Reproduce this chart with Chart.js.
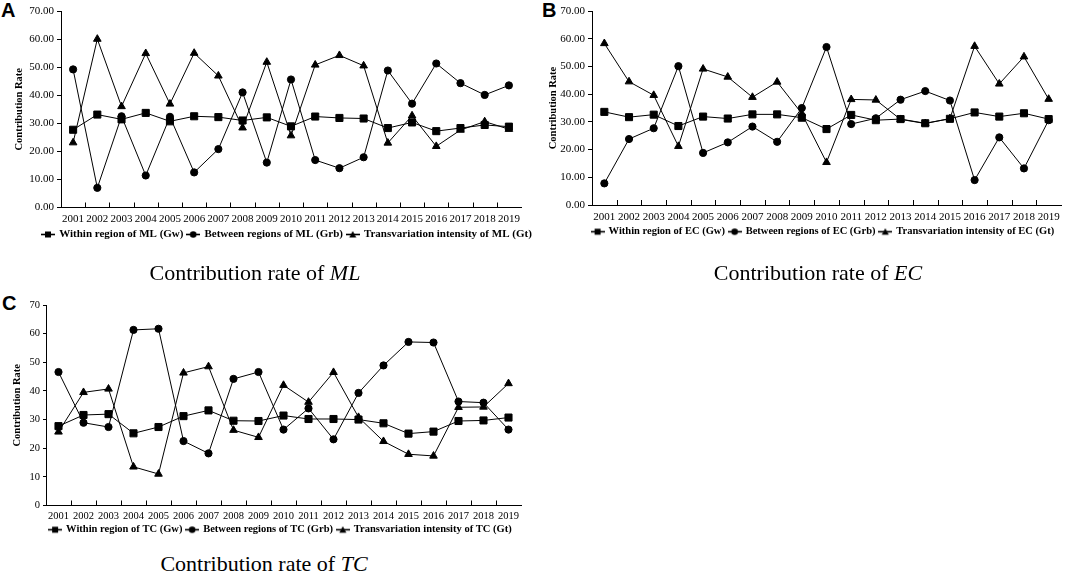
<!DOCTYPE html>
<html>
<head>
<meta charset="utf-8">
<script src="https://cdn.jsdelivr.net/npm/chart.js@4.4.1/dist/chart.umd.min.js"></script>
<style>
  body { margin: 0; background: #fff; width: 1079px; height: 574px; position: relative; overflow: hidden; }
  .panel { position: absolute; }
  .tag { position: absolute; font: bold 20px "Liberation Sans", Arial, sans-serif; line-height: 20px; color: #000; }
  .cap { position: absolute; width: 400px; text-align: center; white-space: nowrap; color: #000;
         font: 22px "Liberation Serif", "Times New Roman", serif; line-height: 22px; }
</style>
</head>
<body>
<div class="tag" style="left:1px;top:0px">A</div>
<div class="tag" style="left:542px;top:0px">B</div>
<div class="tag" style="left:2px;top:293px">C</div>

<div class="panel" style="left:0;top:0;width:540px;height:250px"><canvas id="chartML"></canvas></div>
<div class="panel" style="left:540px;top:0;width:539px;height:247px"><canvas id="chartEC"></canvas></div>
<div class="panel" style="left:0;top:280px;width:540px;height:265px"><canvas id="chartTC"></canvas></div>

<div class="cap" style="left:55px;top:262px">Contribution rate of <i>ML</i></div>
<div class="cap" style="left:618px;top:262px">Contribution rate of <i>EC</i></div>
<div class="cap" style="left:64px;top:553px">Contribution rate of <i>TC</i></div>

<script>
const years = ['2001', '2002', '2003', '2004', '2005', '2006', '2007', '2008', '2009', '2010',
               '2011', '2012', '2013', '2014', '2015', '2016', '2017', '2018', '2019'];

// ML
const mlGw  = [27.7, 33.1, 31.4, 33.7, 30.7, 32.5, 32.2, 31.0, 32.1, 28.9, 32.4, 31.9, 31.7, 28.3, 30.3, 27.2, 28.3, 29.4, 28.8];
const mlGrb = [49.2, 7.0, 32.5, 11.4, 32.3, 12.5, 20.8, 41.0, 16.0, 45.6, 16.9, 14.0, 17.9, 48.8, 37.0, 51.3, 44.3, 40.1, 43.5];
const mlGt  = [23.1, 60.0, 36.0, 54.9, 36.9, 55.0, 46.9, 28.4, 51.8, 25.6, 50.8, 54.2, 50.5, 23.0, 32.7, 21.8, 27.6, 30.6, 27.9];

// EC
const ecGw  = [33.6, 31.7, 32.6, 28.5, 31.9, 31.2, 32.7, 32.7, 31.5, 27.4, 32.5, 30.6, 31.0, 29.5, 31.1, 33.4, 31.9, 33.1, 31.0];
const ecGrb = [7.8, 23.8, 27.7, 50.1, 18.8, 22.6, 28.3, 22.8, 35.0, 57.0, 29.2, 31.3, 38.0, 41.1, 37.7, 9.0, 24.4, 13.2, 30.6];
const ecGt  = [58.3, 44.5, 39.6, 21.2, 49.1, 46.2, 38.9, 44.4, 33.0, 15.4, 38.1, 37.9, 30.9, 29.4, 31.2, 57.3, 43.7, 53.5, 38.2];

// TC
const tcGw  = [27.7, 31.6, 31.9, 25.2, 27.4, 31.2, 33.2, 29.6, 29.5, 31.4, 30.2, 30.2, 30.0, 28.7, 25.1, 25.8, 29.5, 29.7, 30.7];
const tcGrb = [46.6, 28.9, 27.4, 61.3, 61.7, 22.5, 18.2, 44.2, 46.6, 26.5, 33.9, 23.1, 39.3, 48.9, 57.1, 56.9, 36.3, 35.9, 26.5];
const tcGt  = [25.7, 39.5, 40.7, 13.5, 11.0, 46.3, 48.5, 26.3, 23.8, 42.0, 36.1, 46.5, 30.8, 22.4, 17.9, 17.3, 34.3, 34.4, 42.6];

const seriesStyles = ['rect', 'circle', 'triangle'];
const seriesRadius = [5, 3.6, 4.4];

Chart.defaults.font.family = '"Liberation Serif", "Times New Roman", serif';
Chart.defaults.color = '#000';

// little "-■-" style pictures for the legend
function legendIcon(style) {
    const c = document.createElement('canvas');
    c.width = 14;
    c.height = 9;
    const g = c.getContext('2d');
    g.strokeStyle = '#000';
    g.fillStyle = '#000';
    g.lineWidth = 1.6;
    g.beginPath();
    g.moveTo(0, 4.5);
    g.lineTo(14, 4.5);
    g.stroke();
    g.beginPath();
    if (style === 'rect') {
        g.rect(4, 1.5, 6, 6);
    } else if (style === 'circle') {
        g.arc(7, 4.5, 3.3, 0, Math.PI * 2);
    } else {
        g.moveTo(7, 1);
        g.lineTo(10.5, 7.5);
        g.lineTo(3.5, 7.5);
        g.closePath();
    }
    g.fill();
    return c;
}
const icons = seriesStyles.map(legendIcon);

// tick marks pointing up into the plot, between the years
const innerTicks = {
    id: 'innerTicks',
    afterDraw(chart) {
        const xs = chart.scales.x;
        const ctx = chart.ctx;
        const y = chart.chartArea.bottom;
        ctx.save();
        ctx.strokeStyle = '#000';
        ctx.lineWidth = 1;
        ctx.beginPath();
        for (let i = 1; i < xs.ticks.length; i++) {
            const x = Math.round((xs.getPixelForTick(i - 1) + xs.getPixelForTick(i)) / 2) + 0.5;
            ctx.moveTo(x, y);
            ctx.lineTo(x, y - 5);
        }
        ctx.stroke();
        ctx.restore();
    }
};

// the legend row sits a bit right of the canvas centre in the original
const legendPlace = {
    id: 'legendPlace',
    afterLayout(chart, args, opts) {
        const lg = chart.legend;
        const half = (lg.right - lg.left) / 2;
        lg.left = opts.center - half;
        lg.right = opts.center + half;
    }
};

function makeChart(id, names, gw, grb, gt, o) {
    const values = [gw, grb, gt];
    return new Chart(document.getElementById(id), {
        type: 'line',
        data: {
            labels: years,
            datasets: values.map((v, i) => ({
                label: names[i],
                data: v,
                borderColor: '#000',
                borderWidth: 1,
                backgroundColor: '#000',
                pointStyle: seriesStyles[i],
                pointRadius: seriesRadius[i],
                pointBackgroundColor: '#000',
                pointBorderColor: '#000',
                pointBorderWidth: 1,
                tension: 0
            }))
        },
        options: {
            responsive: true,
            maintainAspectRatio: false,
            animation: false,
            layout: {
                padding: { top: o.top, right: o.right, left: 0, bottom: 0 }
            },
            plugins: {
                tooltip: { enabled: false },
                legendPlace: { center: o.legendCenter },
                legend: {
                    position: 'bottom',
                    align: 'center',
                    labels: {
                        usePointStyle: true,
                        pointStyleWidth: 11.5,
                        padding: 4,
                        color: '#000',
                        font: { size: o.legendSize, weight: 'bold' },
                        generateLabels: function (chart) {
                            const items = Chart.defaults.plugins.legend.labels.generateLabels(chart);
                            items.forEach((it, i) => { it.pointStyle = icons[i]; });
                            return items;
                        }
                    }
                }
            },
            scales: {
                x: {
                    offset: true,
                    grid: { display: true, drawOnChartArea: false, drawTicks: false, offset: true },
                    border: { color: '#000', width: 1 },
                    ticks: { padding: o.xPad, maxRotation: 0, autoSkip: false, font: { size: o.tickSize } },
                    afterFit: function (scale) { scale.height = o.xHeight; }
                },
                y: {
                    min: 0,
                    max: 70,
                    grid: { drawOnChartArea: false, drawTicks: true, tickLength: o.tickLen, color: '#000' },
                    border: { color: '#000', width: 1 },
                    ticks: {
                        stepSize: 10,
                        padding: 3,
                        font: { size: o.tickSize },
                        callback: o.decimals ? (v => v.toFixed(2)) : (v => v)
                    },
                    title: {
                        display: true,
                        text: 'Contribution Rate',
                        font: { size: 10.5, weight: 'bold' },
                        padding: { top: o.titlePad, bottom: 0 }
                    },
                    afterFit: function (scale) { scale.width = o.yWidth; }
                }
            }
        },
        plugins: [innerTicks, legendPlace]
    });
}

makeChart('chartML',
    ['Within region of ML (Gw)', 'Between regions of ML (Grb)', 'Transvariation intensity of ML (Gt)'],
    mlGw, mlGrb, mlGt,
    { top: 11, right: 19, yWidth: 61, xHeight: 17.5, xPad: 5.5, tickLen: 4, tickSize: 11, legendSize: 11,
      titlePad: 12.5, decimals: true, legendCenter: 287 });

makeChart('chartEC',
    ['Within region of EC (Gw)', 'Between regions of EC (Grb)', 'Transvariation intensity of EC (Gt)'],
    ecGw, ecGrb, ecGt,
    { top: 11, right: 18, yWidth: 52, xHeight: 17.5, xPad: 5.5, tickLen: 4, tickSize: 11, legendSize: 10.5,
      titlePad: 6.5, decimals: true, legendCenter: 283 });

makeChart('chartTC',
    ['Within region of TC (Gw)', 'Between regions of TC (Grb)', 'Transvariation intensity of TC (Gt)'],
    tcGw, tcGrb, tcGt,
    { top: 25, right: 19, yWidth: 46, xHeight: 15, xPad: 4.5, tickLen: 3, tickSize: 10.5, legendSize: 10.5,
      titlePad: 11, decimals: false, legendCenter: 280.5 });
</script>
</body>
</html>
